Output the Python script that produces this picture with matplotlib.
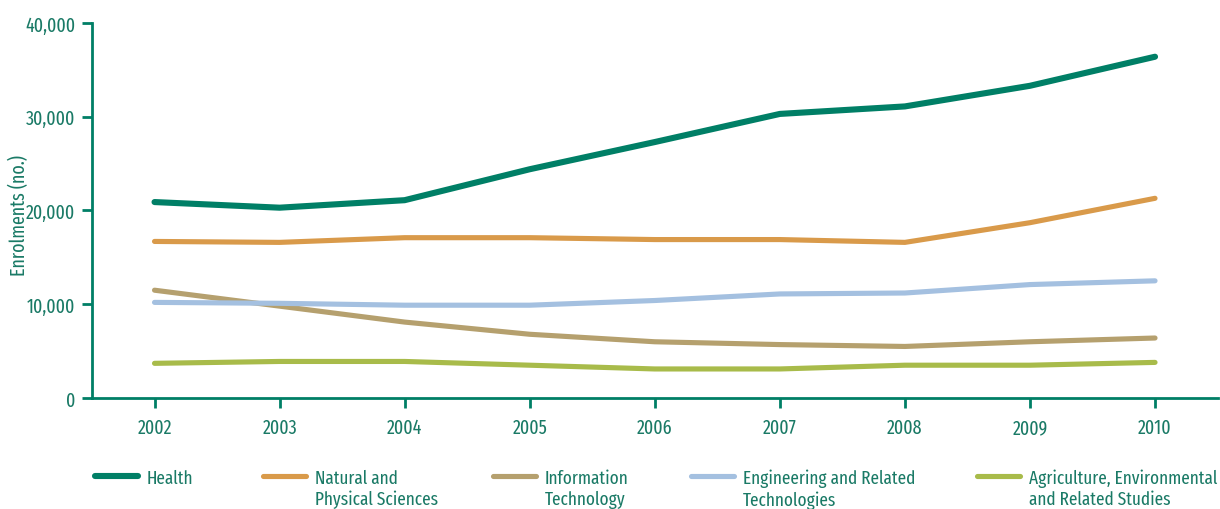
import matplotlib.pyplot as plt

years = [2002, 2003, 2004, 2005, 2006, 2007, 2008, 2009, 2010]
health = [20900, 20300, 21100, 24400, 27300, 30300, 31100, 33300, 36400]
natural = [16700, 16600, 17100, 17100, 16900, 16900, 16600, 18700, 21300]
info_tech = [11500, 9800, 8100, 6800, 6000, 5700, 5500, 6000, 6400]
engineering = [10200, 10100, 9900, 9900, 10400, 11100, 11200, 12100, 12500]
agriculture = [3700, 3900, 3900, 3500, 3100, 3100, 3500, 3500, 3800]

labels = ['Health', 'Natural and\nPhysical Sciences', 'Information\nTechnology',
          'Engineering and Related\nTechnologies', 'Agriculture, Environmental\nand Related Studies']
series = [health, natural, info_tech, engineering, agriculture]
colors = ['#007f66', '#d99a4a', '#b5a06e', '#a4c0e0', '#a8bb4a']
widths = [4.4, 3.7, 3.7, 3.7, 3.7]
legend_x = [95, 263, 493, 691, 977]  # left edge of each legend entry, px

plt.rcParams['font.family'] = ['Fira Sans Extra Condensed', 'Fira Sans Condensed', 'DejaVu Sans']

teal = '#1a7a66'

fig = plt.figure(figsize=(12.2, 5.1), dpi=100)
ax = fig.add_axes([0.0754, 0.2176, 0.9226, 0.7354])

lines = []
for vals, lab, c, w in zip(series, labels, colors, widths):
    ln, = ax.plot(years, vals, color=c, lw=w, label=lab, solid_capstyle='round')
    lines.append(ln)

ax.set_xlim(2001.5, 2010.5)
ax.set_ylim(0, 40000)
ax.set_xticks(years)
ax.set_yticks([0, 10000, 20000, 30000, 40000])
ax.set_yticklabels(['0', '10,000', '20,000', '30,000', '40,000'])
ax.set_ylabel('Enrolments (no.)', color=teal, fontsize=14)
ax.yaxis.set_label_coords(-0.056, 0.49)

for s in ['top', 'right']:
    ax.spines[s].set_visible(False)
for s in ['left', 'bottom']:
    ax.spines[s].set_color('#007f66')
    ax.spines[s].set_linewidth(2)
ax.tick_params(colors='#007f66', labelcolor=teal, labelsize=14, width=2, length=7)
ax.tick_params(axis='x', pad=7)
ax.tick_params(axis='y', pad=5)

# one legend per entry so each can sit where it does in the original
for ln, lab, x in zip(lines, labels, legend_x):
    leg = fig.legend(handles=[ln], labels=[lab], loc='upper left',
                     bbox_to_anchor=(x / 1220, 1 - 470 / 510), frameon=False,
                     fontsize=13.5, labelcolor=teal, handlelength=2.3, handletextpad=0.45,
                     borderpad=0, borderaxespad=0, labelspacing=0)
    # keep the swatch level with the first text line
    for col in leg._legend_handle_box.get_children():
        for row in col.get_children():
            row.align = 'top'

fig.savefig('out.png', dpi=100)
